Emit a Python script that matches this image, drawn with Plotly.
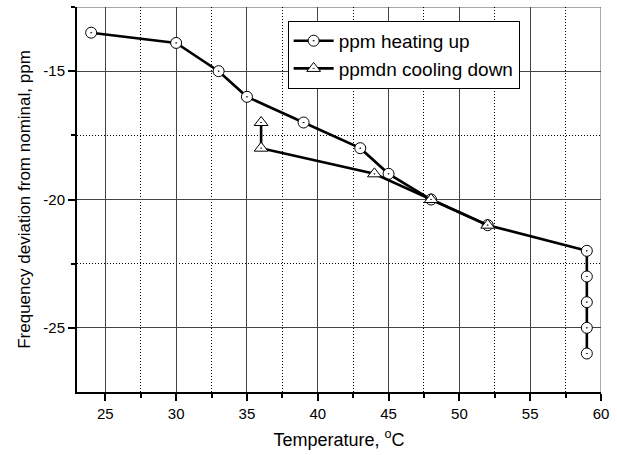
import plotly.graph_objects as go

# Data
heat_x = [24, 30, 33, 35, 39, 43, 45, 48, 52, 59, 59, 59, 59, 59]
heat_y = [-13.5, -13.9, -15, -16, -17, -18, -19, -20, -21, -22, -23, -24, -25, -26]
cool_x = [52, 48, 44, 36, 36]
cool_y = [-21, -20, -19, -18, -17]

x_ticks = [25, 30, 35, 40, 45, 50, 55, 60]
x_minor = [27.5, 32.5, 37.5, 42.5, 47.5, 52.5, 57.5]
y_ticks = [-15, -20, -25]
y_ticktext = ["-15", "-20", "-25"]
y_minor = [-12.5, -17.5, -22.5]

FONT = "Liberation Sans, Arial, sans-serif"

fig = go.Figure()
fig.add_trace(go.Scatter(
    x=heat_x, y=heat_y, mode="lines+markers", name="ppm heating up",
    line=dict(color="black", width=2.6),
    marker=dict(symbol="circle-dot", size=11, color="white",
                line=dict(color="black", width=1)),
))
fig.add_trace(go.Scatter(
    x=cool_x, y=cool_y, mode="lines+markers", name="ppmdn cooling down",
    line=dict(color="black", width=2.6),
    marker=dict(symbol="triangle-up-dot", size=12, color="white",
                line=dict(color="black", width=1)),
))

# top border (thin gray) and right border
fig.add_shape(type="line", xref="x", yref="y", x0=23, x1=60, y0=-12.5, y1=-12.5,
              line=dict(color="#555555", width=1), layer="below")
fig.add_shape(type="line", xref="x", yref="y", x0=60, x1=60, y0=-27.5, y1=-12.5,
              line=dict(color="#555555", width=1), layer="below")

fig.update_layout(
    width=617, height=455,
    margin=dict(l=77, r=16, t=7, b=63),
    paper_bgcolor="white", plot_bgcolor="white",
    font=dict(family=FONT, color="black"),
    showlegend=True,
    legend=dict(
        x=0.402, y=0.964, xanchor="left", yanchor="top",
        font=dict(size=19, family=FONT, color="black"),
        bgcolor="white", bordercolor="black", borderwidth=1,
        tracegroupgap=0, itemwidth=40,
    ),
)

fig.update_xaxes(
    range=[23, 60], tickvals=x_ticks, ticks="outside", ticklen=7, tickwidth=1.5,
    tickcolor="black", showline=True, linecolor="black", linewidth=2,
    showgrid=True, gridcolor="#444444", gridwidth=1,
    zeroline=False, tickfont=dict(size=15, family=FONT, color="black"),
    title=dict(text="Temperature, <sup>o</sup>C", font=dict(size=18, family=FONT, color="black"),
               standoff=12),
    minor=dict(tickvals=x_minor, ticks="outside", ticklen=4, tickwidth=1.5, tickcolor="black",
               showgrid=True, gridcolor="black", griddash="1px,2px", gridwidth=1),
)
fig.update_yaxes(
    range=[-27.5, -12.5], tickvals=y_ticks, ticktext=y_ticktext, ticks="outside", ticklen=7,
    tickwidth=1.5, tickcolor="black", showline=True, linecolor="black", linewidth=2,
    showgrid=True, gridcolor="#444444", gridwidth=1,
    zeroline=False, tickfont=dict(size=15, family=FONT, color="black"),
    title=dict(text="Frequency deviation from nominal, ppm",
               font=dict(size=17, family=FONT, color="black"), standoff=8),
    minor=dict(tickvals=y_minor, ticks="outside", ticklen=4, tickwidth=1.5, tickcolor="black",
               showgrid=True, gridcolor="black", griddash="1px,2px", gridwidth=1),
)

fig.write_html("out.html")
